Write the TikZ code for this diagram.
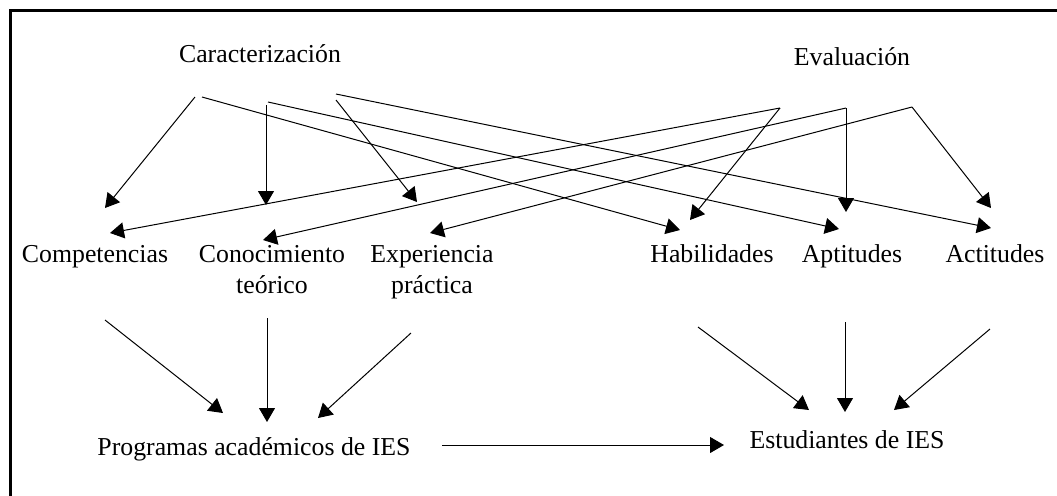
\documentclass[tikz,border=0pt]{standalone}
\usepackage{fontspec}
\setmainfont{Liberation Serif}
\usetikzlibrary{arrows.meta}

\tikzset{
    lbl/.style={anchor=base, align=center, inner sep=0pt,
        font=\fontsize{12.9}{15.5}\selectfont},
    flecha/.style={line width=0.5pt, -{Triangle[length=7pt,width=8pt]}}
}

\begin{document}
\begin{tikzpicture}[x=0.5pt, y=-0.5pt]
    \useasboundingbox (0,0) rectangle (1057,495);
    \draw[line width=1.5pt] (10,500) -- (10,10) -- (1060,10);

    % titulos
    \node[lbl] (car) at (260,62) {Caracterización};
    \node[lbl] (eva) at (852,65) {Evaluación};

    % nivel medio
    \node[lbl] (comp) at (95,262) {Competencias};
    \node[lbl] (cono) at (272,293) {Conocimiento\\teórico};
    \node[lbl] (expe) at (432,293) {Experiencia\\práctica};
    \node[lbl] (habi) at (712,262) {Habilidades};
    \node[lbl] (apti) at (852,262) {Aptitudes};
    \node[lbl] (acti) at (995,262) {Actitudes};

    % nivel inferior
    \node[lbl] (prog) at (254,455) {Programas académicos de IES};
    \node[lbl] (estu) at (847,448) {Estudiantes de IES};

    % salidas de Caracterizacion
    \coordinate (cA) at (195,97);
    \coordinate (cB) at (202,97);
    \coordinate (cC) at (266,105);
    \coordinate (cD) at (268,102);
    \coordinate (cE) at (336,100);
    \coordinate (cF) at (336,94);
    % salidas de Evaluacion
    \coordinate (eA) at (780,108);
    \coordinate (eB) at (846,108);
    \coordinate (eC) at (912,107);
    % llegadas
    \coordinate (compA) at (105,208);
    \coordinate (compB) at (110,233);
    \coordinate (conoA) at (266,205);
    \coordinate (conoB) at (263,240);
    \coordinate (expeA) at (417,202);
    \coordinate (expeB) at (430,233);
    \coordinate (habiA) at (680,230);
    \coordinate (habiB) at (690,220);
    \coordinate (aptiA) at (839,229);
    \coordinate (aptiB) at (846,212);
    \coordinate (actiA) at (991,228);
    \coordinate (actiB) at (991,208);

    \draw[flecha] (cA) -- (compA);
    \draw[flecha] (cB) -- (habiA);
    \draw[flecha] (cC) -- (conoA);
    \draw[flecha] (cD) -- (aptiA);
    \draw[flecha] (cE) -- (expeA);
    \draw[flecha] (cF) -- (actiA);

    \draw[flecha] (eA) -- (habiB);
    \draw[flecha] (eA) -- (compB);
    \draw[flecha] (eB) -- (aptiB);
    \draw[flecha] (eB) -- (conoB);
    \draw[flecha] (eC) -- (actiB);
    \draw[flecha] (eC) -- (expeB);

    % hacia abajo
    \coordinate (comp2) at (105,320);
    \coordinate (cono2) at (267,318);
    \coordinate (expe2) at (411,333);
    \coordinate (habi2) at (698,327);
    \coordinate (apti2) at (845,322);
    \coordinate (acti2) at (990,329);
    \coordinate (progA) at (223,413);
    \coordinate (progB) at (267,422);
    \coordinate (progC) at (318,418);
    \coordinate (estuA) at (809,410);
    \coordinate (estuB) at (845,412);
    \coordinate (estuC) at (894,410);

    \draw[flecha] (comp2) -- (progA);
    \draw[flecha] (cono2) -- (progB);
    \draw[flecha] (expe2) -- (progC);
    \draw[flecha] (habi2) -- (estuA);
    \draw[flecha] (apti2) -- (estuB);
    \draw[flecha] (acti2) -- (estuC);

    \coordinate (progD) at (442,445);
    \coordinate (estuD) at (724,445);
    \draw[flecha] (progD) -- (estuD);
\end{tikzpicture}
\end{document}
